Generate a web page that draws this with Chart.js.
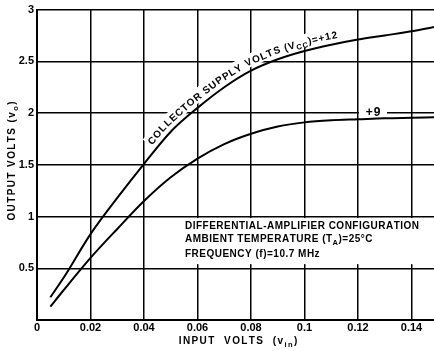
<!DOCTYPE html>
<html>
<head>
<meta charset="utf-8">
<script src="https://cdn.jsdelivr.net/npm/chart.js@4.4.0/dist/chart.umd.min.js"></script>
<style>
  html, body { margin: 0; padding: 0; background: #fff; }
  #wrap { width: 434px; height: 351px; }
</style>
</head>
<body>
<div id="wrap"><canvas id="chart" width="434" height="351"></canvas></div>
<script>
// values
const inputVolts = [0.005, 0.01, 0.02, 0.03, 0.04, 0.05, 0.06, 0.07, 0.08, 0.09, 0.1, 0.11, 0.12, 0.13, 0.14, 0.15];
const vcc12 = [0.22, 0.41, 0.83, 1.18, 1.51, 1.82, 2.05, 2.25, 2.41, 2.52, 2.60, 2.66, 2.71, 2.75, 2.79, 2.84];
const vcc9 = [0.13, 0.29, 0.60, 0.88, 1.15, 1.38, 1.56, 1.70, 1.80, 1.87, 1.91, 1.93, 1.94, 1.95, 1.955, 1.96];
const xTickLabels = ['0', '0.02', '0.04', '0.06', '0.08', '0.1', '0.12', '0.14'];
const yTickLabels = ['', '0.5', '1', '1.5', '2', '2.5', '3'];

const curveLabel = [['COLLECTOR SUPPLY VOLTS (V', false], ['CC', true], [')=+12', false]];
const noteLines = [
  [['DIFFERENTIAL-AMPLIFIER CONFIGURATION', false]],
  [['AMBIENT TEMPERATURE (T', false], ['A', true], [')=25°C', false]],
  [['FREQUENCY (f)=10.7 MHz', false]]
];

const FONT = '"Liberation Sans", Arial, sans-serif';
const font = (s) => `bold ${s}px ${FONT}`;

function toPoints(ys) {
  return inputVolts.map((x, i) => ({ x: x, y: ys[i] }));
}

// draws text with subscript pieces, char by char so we can space it out
function drawRich(ctx, parts, x, y, size, align, spacing) {
  const sp = spacing || 0;
  let total = 0;
  parts.forEach(([t, sub]) => {
    ctx.font = font(sub ? size * 0.75 : size);
    for (const ch of t) total += ctx.measureText(ch).width + sp;
  });
  total -= sp;
  let cx = align === 'center' ? x - total / 2 : x;
  ctx.textAlign = 'left';
  ctx.textBaseline = 'middle';
  parts.forEach(([t, sub]) => {
    ctx.font = font(sub ? size * 0.75 : size);
    for (const ch of t) {
      ctx.fillText(ch, cx, y + (sub ? size * 0.35 : 0));
      cx += ctx.measureText(ch).width + sp;
    }
  });
  return total;
}

// text that follows the first curve
function drawOnCurve(ctx, pts, parts, startX, offset, size, spacing) {
  const cum = [0];
  for (let i = 1; i < pts.length; i++) {
    cum.push(cum[i - 1] + Math.hypot(pts[i].x - pts[i - 1].x, pts[i].y - pts[i - 1].y));
  }
  const at = (s) => {
    let i = 0;
    while (i < cum.length - 2 && cum[i + 1] < s) i++;
    const t = (s - cum[i]) / (cum[i + 1] - cum[i]);
    return { x: pts[i].x + (pts[i + 1].x - pts[i].x) * t, y: pts[i].y + (pts[i + 1].y - pts[i].y) * t };
  };
  // arc length where the curve reaches startX
  let s = 0;
  while (at(s).x < startX) s += 0.5;

  const placed = [];
  parts.forEach(([t, sub]) => {
    const sz = sub ? size * 0.75 : size;
    ctx.font = font(sz);
    for (const ch of t) {
      const w = ctx.measureText(ch).width;
      const mid = s + w / 2;
      const p = at(mid);
      const p1 = at(mid - 6), p2 = at(mid + 6);
      const a = Math.atan2(p2.y - p1.y, p2.x - p1.x);
      placed.push({ ch, w, p, a, sz, sub });
      s += w + spacing;
    }
  });
  // white under the letters first, so grid lines are broken
  ctx.fillStyle = '#fff';
  placed.forEach(c => {
    ctx.save();
    ctx.translate(c.p.x, c.p.y);
    ctx.rotate(c.a);
    ctx.fillRect(-c.w / 2 - 1.5, -offset - size - 1, c.w + 3, size + 3);
    ctx.restore();
  });
  ctx.fillStyle = '#000';
  ctx.textAlign = 'center';
  ctx.textBaseline = 'alphabetic';
  placed.forEach(c => {
    ctx.save();
    ctx.translate(c.p.x, c.p.y);
    ctx.rotate(c.a);
    ctx.font = font(c.sz);
    ctx.fillText(c.ch, 0, -offset + (c.sub ? 2.5 : 0));
    ctx.restore();
  });
}

const labelsPlugin = {
  id: 'labels',
  beforeDatasetsDraw(chart) {
    const ctx = chart.ctx;
    const xs = chart.scales.x, ys = chart.scales.y;
    ctx.save();

    // note box
    const bx = xs.getPixelForValue(0.0545);
    const by1 = ys.getPixelForValue(0.985), by2 = ys.getPixelForValue(0.54);
    ctx.fillStyle = '#fff';
    ctx.fillRect(bx, by1, 434 - bx, by2 - by1);
    ctx.fillStyle = '#000';
    const noteX = xs.getPixelForValue(0.0553);
    [0.905, 0.78, 0.64].forEach((v, i) => {
      drawRich(ctx, noteLines[i], noteX, ys.getPixelForValue(v), 10, 'left', 0.5);
    });

    // +9 tag on the 2 V line
    const nx = xs.getPixelForValue(0.1256), ny = ys.getPixelForValue(2);
    ctx.fillStyle = '#fff';
    ctx.fillRect(nx - 14, ny - 7, 28, 14);
    ctx.fillStyle = '#000';
    drawRich(ctx, [['+9', false]], nx, ny, 12, 'center', 1);

    // label along the +12 curve
    const pts = chart.getDatasetMeta(0).data.map(p => ({ x: p.x, y: p.y }));
    drawOnCurve(ctx, pts, curveLabel, xs.getPixelForValue(0.0445), 5.5, 10, 0.8);

    ctx.restore();
  },
  afterDraw(chart) {
    const ctx = chart.ctx;
    ctx.save();
    ctx.fillStyle = '#000';
    drawRich(ctx, [['INPUT  VOLTS  (v', false], ['in', true], [')', false]], 238, 341, 10, 'center', 1.4);
    ctx.translate(12, 161);
    ctx.rotate(-Math.PI / 2);
    drawRich(ctx, [['OUTPUT VOLTS (v', false], ['o', true], [')', false]], 0, 0, 10, 'center', 1.4);
    ctx.restore();
  }
};

new Chart(document.getElementById('chart'), {
  type: 'line',
  data: {
    datasets: [
      { label: '+12', data: toPoints(vcc12), borderColor: '#000', borderWidth: 2, pointRadius: 0, cubicInterpolationMode: 'monotone' },
      { label: '+9', data: toPoints(vcc9), borderColor: '#000', borderWidth: 2, pointRadius: 0, cubicInterpolationMode: 'monotone' }
    ]
  },
  options: {
    responsive: false,
    animation: false,
    devicePixelRatio: 1,
    layout: { padding: { top: 6, right: 0, left: 0, bottom: 0 } },
    plugins: { legend: { display: false }, tooltip: { enabled: false } },
    scales: {
      x: {
        type: 'linear',
        min: 0,
        max: 0.1484,
        afterFit: (s) => { s.height = 31; },
        grid: { color: '#000', lineWidth: 1.5, drawTicks: false },
        border: { color: '#000', width: 2 },
        ticks: {
          stepSize: 0.02,
          includeBounds: false,
          padding: 1,
          color: '#000',
          font: { family: FONT, size: 11, weight: 'bold' },
          maxRotation: 0,
          callback: (v, i) => xTickLabels[i] ?? ''
        }
      },
      y: {
        type: 'linear',
        min: 0,
        max: 3,
        afterFit: (s) => { s.width = 37; },
        grid: { color: '#000', lineWidth: 1.5, drawTicks: false },
        border: { color: '#000', width: 2 },
        ticks: {
          stepSize: 0.5,
          padding: 3,
          color: '#000',
          font: { family: FONT, size: 11, weight: 'bold' },
          callback: (v, i) => yTickLabels[i] ?? ''
        }
      }
    }
  },
  plugins: [labelsPlugin]
});
</script>
</body>
</html>
